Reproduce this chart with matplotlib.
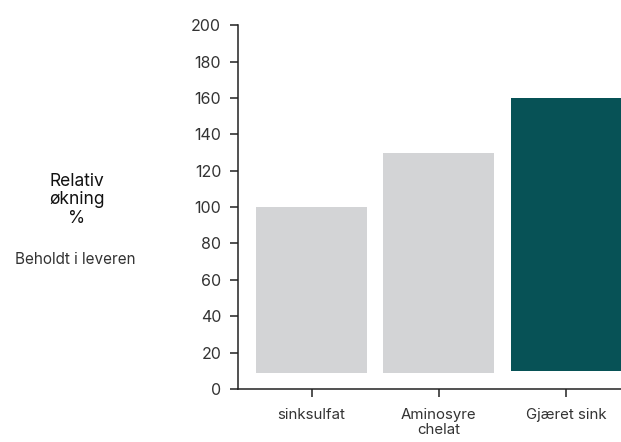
import matplotlib
matplotlib.use("Agg")
import matplotlib.pyplot as plt
import numpy as np

# data
categories = ["sinksulfat", "Aminosyre\nchelat", "Gjæret sink"]
bar_bottoms = [9, 9, 10]
bar_tops = [100, 130, 160]
yticks = list(range(0, 201, 20))

GREY = "#d3d4d6"
GREEN = "#075256"
TXT = "#333333"
colors = [GREY, GREY, GREEN]

plt.rcParams["font.family"] = ["Inter", "DejaVu Sans"]

fig = plt.figure(figsize=(6.21, 4.42), dpi=100)
ax = fig.add_axes([0.383, 0.12, 0.617, 0.823])

x = np.arange(len(categories))
heights = [t - b for t, b in zip(bar_tops, bar_bottoms)]
ax.bar(x, heights, bottom=bar_bottoms, width=0.872, color=colors, clip_on=True)

ax.set_xlim(-0.579, 2.432)
ax.set_ylim(0, 200)
ax.set_yticks(yticks)
ax.set_xticks(x)
ax.set_xticklabels(categories, fontsize=10.8, color=TXT, linespacing=1.05)
ax.tick_params(axis="y", labelsize=11.5, labelcolor=TXT, length=6, width=1.1,
               pad=6, color="#222222")
ax.tick_params(axis="x", length=6, width=1.1, pad=8, color="#222222")

for s in ["top", "right"]:
    ax.spines[s].set_visible(False)
for s in ["left", "bottom"]:
    ax.spines[s].set_color("#222222")
    ax.spines[s].set_linewidth(1.1)

fig.text(77 / 621, 1 - 200 / 442, "Relativ\nøkning\n%", ha="center", va="center",
         fontsize=12.5, color="#111111", linespacing=1.12)
fig.text(75 / 621, 1 - 259 / 442, "Beholdt i leveren", ha="center", va="center",
         fontsize=11, color=TXT)

fig.savefig("out.png", dpi=100)
